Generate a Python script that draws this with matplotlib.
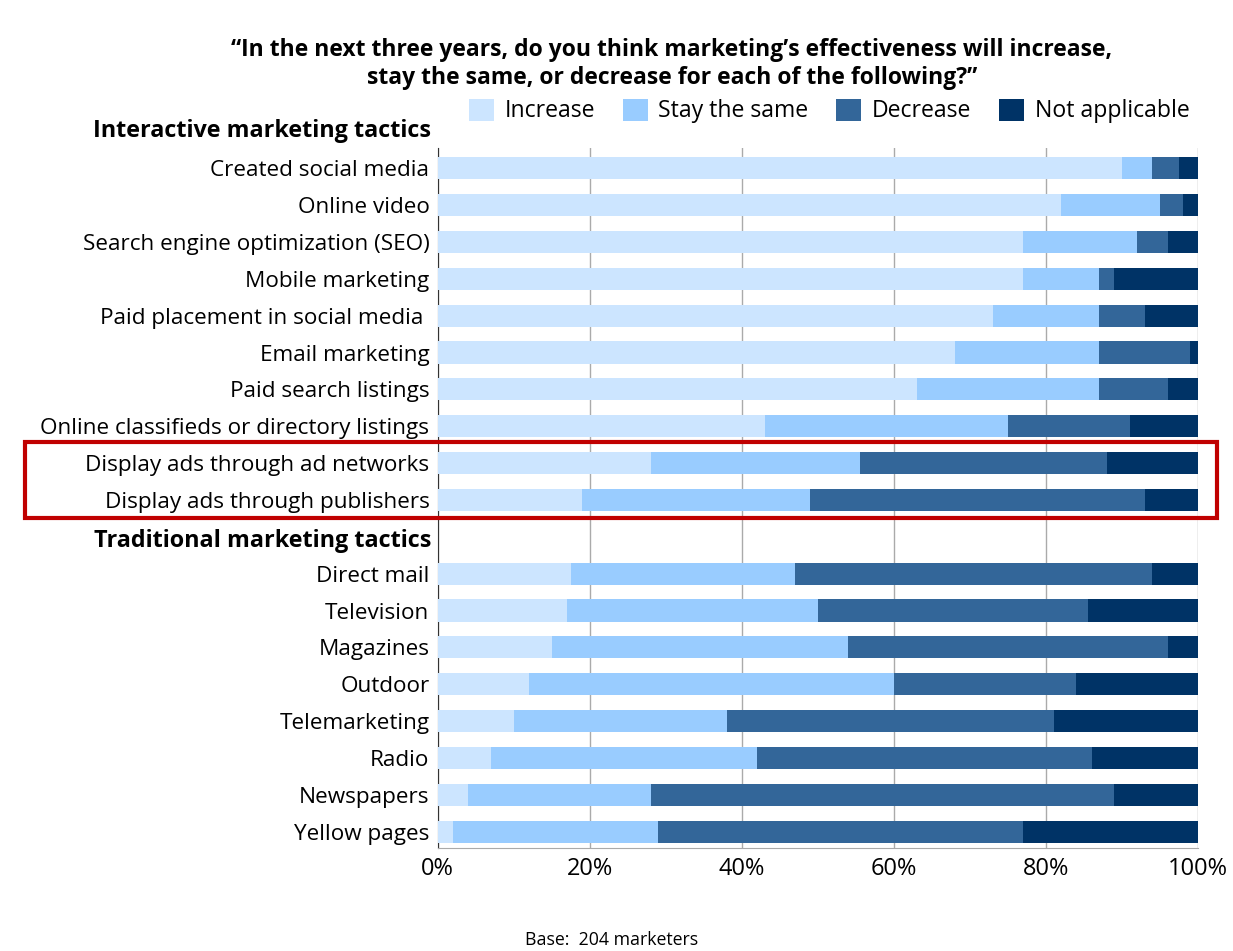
import numpy as np
import matplotlib.pyplot as plt
from matplotlib.patches import Rectangle

plt.rcParams['font.family'] = ['Open Sans', 'DejaVu Sans']

# data (percent of marketers)
interactive = ['Created social media', 'Online video', 'Search engine optimization (SEO)',
               'Mobile marketing', 'Paid placement in social media ', 'Email marketing',
               'Paid search listings', 'Online classifieds or directory listings',
               'Display ads through ad networks', 'Display ads through publishers']
traditional = ['Direct mail', 'Television', 'Magazines', 'Outdoor', 'Telemarketing',
               'Radio', 'Newspapers', 'Yellow pages']

increase = [90, 82, 77, 77, 73, 68, 63, 43, 28, 19,
            17.5, 17, 15, 12, 10, 7, 4, 2]
stay_same = [4, 13, 15, 10, 14, 19, 24, 32, 27.5, 30,
             29.5, 33, 39, 48, 28, 35, 24, 27]
decrease = [3.5, 3, 4, 2, 6, 12, 9, 16, 32.5, 44,
            47, 35.5, 42, 24, 43, 44, 61, 48]
not_applicable = [2.5, 2, 4, 11, 7, 1, 4, 9, 12, 7,
                  6, 14.5, 4, 16, 19, 14, 11, 23]

series_names = ['Increase', 'Stay the same', 'Decrease', 'Not applicable']
colors = ['#cce5ff', '#99ccff', '#336699', '#003366']

# row slots: 0 and 11 are the group headings
pos = list(range(1, 11)) + list(range(12, 20))
labels = interactive + traditional

fig = plt.figure(figsize=(12.33, 9.51), dpi=100)
ax = fig.add_axes([0.355, 0.108, 0.9716 - 0.355, 0.844 - 0.108])

left = np.zeros(len(pos))
bars = []
for vals, name, c in zip([increase, stay_same, decrease, not_applicable], series_names, colors):
    b = ax.barh(pos, vals, left=left, height=0.6, color=c, label=name, zorder=3)
    bars.append(b)
    left += np.array(vals)

ax.set_xlim(0, 100)
ax.set_ylim(19.45, 0.46)
ax.set_xticks([0, 20, 40, 60, 80, 100])
ax.set_xticklabels(['0%', '20%', '40%', '60%', '80%', '100%'], fontsize=17)
ax.set_yticks(pos)
ax.set_yticklabels(labels, fontsize=16.2)
ax.tick_params(axis='both', length=0, pad=6)
ax.grid(axis='x', color='#aaaaaa', linewidth=1, zorder=0)
for s in ['top', 'right']:
    ax.spines[s].set_visible(False)
ax.spines['left'].set_color('#333333')
ax.spines['bottom'].set_color('#aaaaaa')

# group headings
for slot, txt in [(0, 'Interactive marketing tactics'), (11.1, 'Traditional marketing tactics')]:
    ax.text(-0.0085, slot, txt, transform=ax.get_yaxis_transform(), ha='right', va='center',
            fontsize=16.8, fontweight='bold', clip_on=False)

fig.text(0.545, 1 - 64 / 951,
         '\u201cIn the next three years, do you think marketing\u2019s effectiveness will increase,\n'
         'stay the same, or decrease for each of the following?\u201d',
         ha='center', va='center', fontsize=16.5, fontweight='bold', linespacing=1.25)

fig.legend(handles=bars, labels=series_names, loc='center', ncol=4, frameon=False,
           bbox_to_anchor=(829 / 1233, 1 - 111 / 951), fontsize=16.6,
           handlelength=1.1, handleheight=1.1, columnspacing=1.2, handletextpad=0.45)

# highlight box around display ads rows
fig.patches.append(Rectangle((25 / 1233, 1 - 518 / 951), (1217 - 25) / 1233, 76 / 951,
                             transform=fig.transFigure, fill=False,
                             edgecolor='#c00000', linewidth=3))

fig.text(612 / 1233, 1 - 940 / 951, 'Base:  204 marketers', ha='center', va='center', fontsize=12.8)

fig.savefig('out.png', dpi=100)
